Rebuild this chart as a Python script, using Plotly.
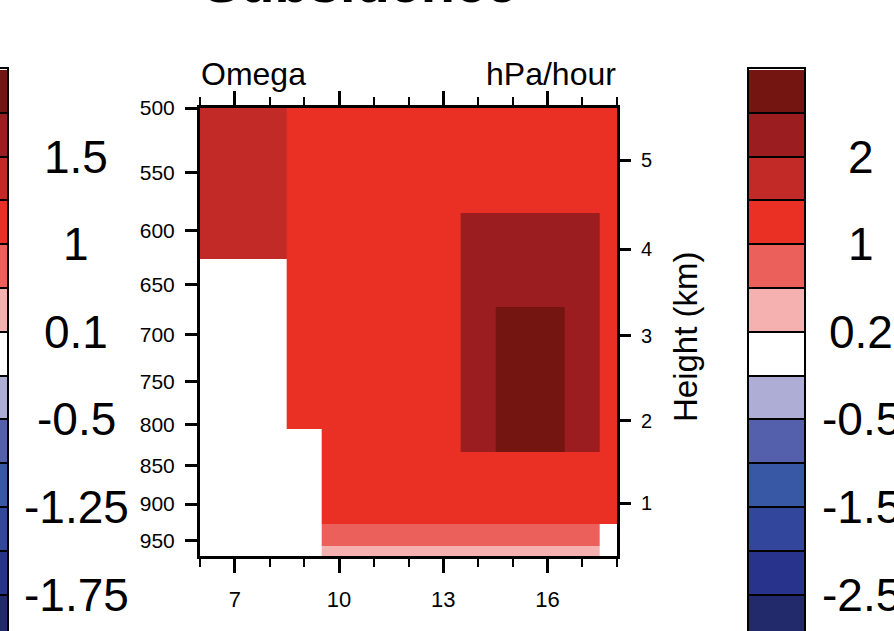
import math
import plotly.graph_objects as go

# ---------------- data ----------------
hours = [6, 7, 8, 9, 10, 11, 12, 13, 14, 15, 16, 17, 18]
# layer edges in hPa (top to bottom)
pressure_edges = [500, 584, 626, 672, 805, 833, 927, 958, 972]
# omega (hPa/hour), one row per layer (top to bottom), one column per hour
omega = [
    [1.7, 1.7, 1.7, 1.2, 1.2, 1.2, 1.2, 1.2, 1.2, 1.2, 1.2, 1.2, 1.2],
    [1.7, 1.7, 1.7, 1.2, 1.2, 1.2, 1.2, 1.2, 2.2, 2.2, 2.2, 2.2, 1.2],
    [0.0, 0.0, 0.0, 1.2, 1.2, 1.2, 1.2, 1.2, 2.2, 2.2, 2.2, 2.2, 1.2],
    [0.0, 0.0, 0.0, 1.2, 1.2, 1.2, 1.2, 1.2, 2.2, 2.7, 2.7, 2.2, 1.2],
    [0.0, 0.0, 0.0, 0.0, 1.2, 1.2, 1.2, 1.2, 2.2, 2.7, 2.7, 2.2, 1.2],
    [0.0, 0.0, 0.0, 0.0, 1.2, 1.2, 1.2, 1.2, 1.2, 1.2, 1.2, 1.2, 1.2],
    [0.0, 0.0, 0.0, 0.0, 0.7, 0.7, 0.7, 0.7, 0.7, 0.7, 0.7, 0.7, 0.0],
    [0.0, 0.0, 0.0, 0.0, 0.35, 0.35, 0.35, 0.35, 0.35, 0.35, 0.35, 0.35, 0.0],
]
pressure_ticks = [500, 550, 600, 650, 700, 750, 800, 850, 900, 950]
hour_ticks = [7, 10, 13, 16]
heights_km = [1, 2, 3, 4, 5]
height_pressure = [898.8, 795.0, 701.2, 616.6, 540.5]

# colour levels (bottom to top)
right_bounds = [-3.0, -2.5, -2.0, -1.5, -1.0, -0.5, -0.2, 0.2, 0.5, 1.0, 1.5, 2.0, 2.5, 3.0]
left_bounds = [-2.0, -1.75, -1.5, -1.25, -1.0, -0.5, -0.1, 0.1, 0.5, 1.0, 1.25, 1.5, 1.75, 2.0]
right_labels = ["-2.5", "-1.5", "-0.5", "0.2", "1", "2"]
left_labels = ["-1.75", "-1.25", "-0.5", "0.1", "1", "1.5"]
palette = ["#232A6B", "#28348C", "#32479B", "#3857A4", "#5560AC", "#ADADD6",
           "#FFFFFF", "#F5B0B0", "#EC605B", "#EA2F24", "#C22A27", "#9B1D20", "#751512"]

FONT = "Liberation Sans, Arial, Helvetica, sans-serif"
W, H = 894, 631


def discrete_scale(bounds, colors):
    lo, hi = bounds[0], bounds[-1]
    cs = []
    for i, c in enumerate(colors):
        cs.append([(bounds[i] - lo) / (hi - lo), c])
        cs.append([(bounds[i + 1] - lo) / (hi - lo), c])
    return cs


def px_x(p):
    return p / W


def px_y(p):
    return 1 - p / H


fig = go.Figure()

# main panel
fig.add_trace(go.Heatmap(
    x=hours, y=pressure_edges, z=omega,
    colorscale=discrete_scale(right_bounds, palette),
    zmin=right_bounds[0], zmax=right_bounds[-1],
    showscale=False, hoverinfo="skip",
    xaxis="x", yaxis="y",
))
# invisible trace to host the right (height) axis
fig.add_trace(go.Scatter(x=[None], y=[None], xaxis="x", yaxis="y2",
                         showlegend=False, hoverinfo="skip"))

# label bars
band_idx = list(range(len(palette)))
right_mid = [(right_bounds[i] + right_bounds[i + 1]) / 2 for i in band_idx]
left_mid = [(left_bounds[i] + left_bounds[i + 1]) / 2 for i in band_idx]
fig.add_trace(go.Heatmap(
    x=[0], y=band_idx, z=[[v] for v in right_mid],
    colorscale=discrete_scale(right_bounds, palette),
    zmin=right_bounds[0], zmax=right_bounds[-1], ygap=2,
    showscale=False, hoverinfo="skip", xaxis="x3", yaxis="y3",
))
fig.add_trace(go.Heatmap(
    x=[0], y=band_idx, z=[[v] for v in left_mid],
    colorscale=discrete_scale(left_bounds, palette),
    zmin=left_bounds[0], zmax=left_bounds[-1], ygap=2,
    showscale=False, hoverinfo="skip", xaxis="x4", yaxis="y4",
))

prange = [math.log10(pressure_edges[-1]), math.log10(pressure_edges[0])]
main_x_dom = [px_x(200), px_x(617)]
main_y_dom = [px_y(556), px_y(108)]

band_px = 43.8
bar_top = 69
nvis = (H - bar_top) / band_px
bar_range = [len(palette) - 0.5 - nvis, len(palette) - 0.5]
boundary_pos = [k - 0.5 for k in range(1, len(palette))]

fig.update_layout(
    width=W, height=H,
    margin=dict(l=0, r=0, t=0, b=0, pad=0),
    paper_bgcolor="white", plot_bgcolor="white",
    font=dict(family=FONT, color="black"),
    showlegend=False,
    xaxis=dict(
        domain=main_x_dom, range=[hours[0], hours[-1]], automargin=False,
        tickmode="array", tickvals=hour_ticks, ticktext=[str(h) for h in hour_ticks],
        ticks="outside", ticklen=14, tickwidth=3, tickcolor="black",
        minor=dict(dtick=1, tick0=6, ticks="outside", ticklen=8, tickwidth=2, tickcolor="black"),
        showline=True, linewidth=3, linecolor="black", mirror="ticks",
        showgrid=False, zeroline=False,
        tickfont=dict(size=22), ticklabelstandoff=8,
        anchor="y",
    ),
    yaxis=dict(
        domain=main_y_dom, type="log", range=prange, automargin=False,
        tickmode="array", tickvals=pressure_ticks, ticktext=[str(p) for p in pressure_ticks],
        ticks="outside", ticklen=12, tickwidth=3, tickcolor="black",
        showline=True, linewidth=3, linecolor="black", mirror=True,
        showgrid=False, zeroline=False,
        tickfont=dict(size=21), ticklabelstandoff=6,
        anchor="x",
    ),
    yaxis2=dict(
        overlaying="y", side="right", type="log", range=prange, automargin=False,
        tickmode="array", tickvals=height_pressure, ticktext=[str(h) for h in heights_km],
        ticks="outside", ticklen=13, tickwidth=3, tickcolor="black",
        showline=False, showgrid=False, zeroline=False,
        tickfont=dict(size=20), ticklabelstandoff=6,
        anchor="x",
    ),
    xaxis3=dict(
        domain=[px_x(749), px_x(804)], range=[-0.5, 0.5], side="top", automargin=False,
        showline=True, linewidth=2, linecolor="black",
        showticklabels=False, ticks="", showgrid=False, zeroline=False,
        anchor="y3",
    ),
    yaxis3=dict(
        domain=[0, px_y(bar_top)], range=bar_range, automargin=False,
        showline=True, linewidth=2, linecolor="black", mirror=True,
        tickmode="array", tickvals=boundary_pos, showticklabels=False, ticks="",
        showgrid=True, gridcolor="black", gridwidth=2, zeroline=False,
        anchor="x3",
    ),
    xaxis4=dict(
        domain=[0, px_x(7)], range=[-0.5, 0.5], side="top", automargin=False,
        showline=True, linewidth=2, linecolor="black",
        showticklabels=False, ticks="", showgrid=False, zeroline=False,
        anchor="y4",
    ),
    yaxis4=dict(
        domain=[0, px_y(bar_top)], range=bar_range, side="right", automargin=False,
        showline=True, linewidth=2, linecolor="black",
        tickmode="array", tickvals=boundary_pos, showticklabels=False, ticks="",
        showgrid=True, gridcolor="black", gridwidth=2, zeroline=False,
        anchor="x4",
    ),
)

ann = []
# label bar texts at every other boundary
for j, lab in enumerate(right_labels):
    ann.append(dict(text=lab, x=px_x(861), xref="paper", y=boundary_pos[2 * j], yref="y3",
                    xanchor="center", yanchor="middle", showarrow=False,
                    font=dict(size=46, family=FONT)))
for j, lab in enumerate(left_labels):
    ann.append(dict(text=lab, x=px_x(76), xref="paper", y=boundary_pos[2 * j], yref="y4",
                    xanchor="center", yanchor="middle", showarrow=False,
                    font=dict(size=46, family=FONT)))
ann.append(dict(text="<b>Subsidence</b>", x=px_x(360), y=px_y(16), xref="paper", yref="paper",
                xanchor="center", yanchor="bottom", showarrow=False,
                font=dict(size=56, family=FONT)))
ann.append(dict(text="Omega", x=px_x(199), y=px_y(94), xref="paper", yref="paper",
                xanchor="left", yanchor="bottom", showarrow=False,
                font=dict(size=32, family=FONT)))
ann.append(dict(text="hPa/hour", x=px_x(618), y=px_y(94), xref="paper", yref="paper",
                xanchor="right", yanchor="bottom", showarrow=False,
                font=dict(size=32, family=FONT)))
ann.append(dict(text="Height (km)", x=px_x(685), y=px_y(337), xref="paper", yref="paper",
                xanchor="center", yanchor="middle", textangle=-90, showarrow=False,
                font=dict(size=33, family=FONT)))
fig.update_layout(annotations=ann)

fig.write_html("out.html", config={"displayModeBar": False},
               post_script="document.body.style.margin='0';")
